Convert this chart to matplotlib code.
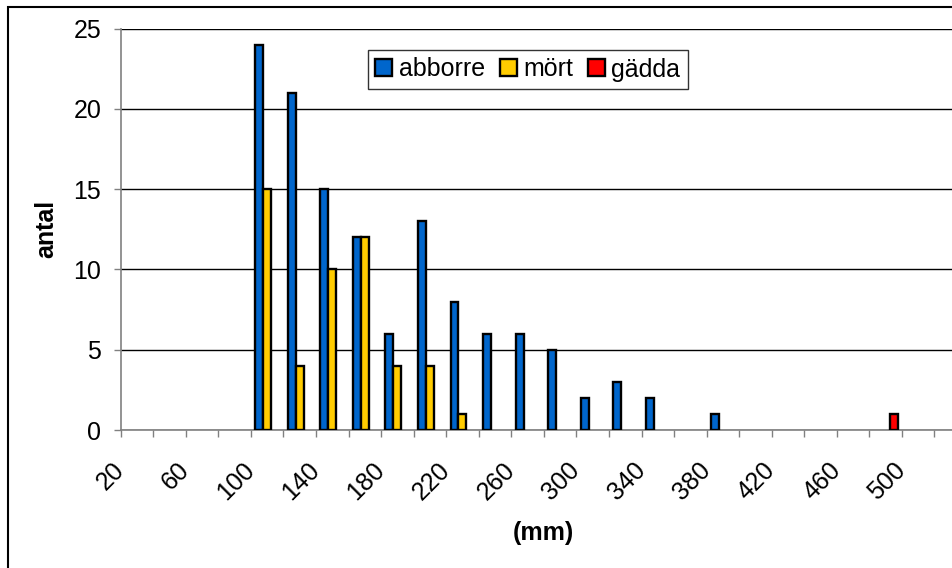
import numpy as np
import matplotlib
matplotlib.use('Agg')
import matplotlib.pyplot as plt
from matplotlib.patches import Rectangle
from matplotlib.transforms import ScaledTranslation

plt.rcParams['font.family'] = ['Liberation Sans', 'DejaVu Sans']

# Length classes (mm) and fish counts
lengths = [20, 40, 60, 80, 100, 120, 140, 160, 180, 200, 220, 240, 260,
           280, 300, 320, 340, 360, 380, 400, 420, 440, 460, 480, 500, 520]
abborre = [0, 0, 0, 0, 24, 21, 15, 12, 6, 13, 8, 6, 6,
           5, 2, 3, 2, 0, 1, 0, 0, 0, 0, 0, 0, 0]
mort = [0, 0, 0, 0, 15, 4, 10, 12, 4, 4, 1, 0, 0,
        0, 0, 0, 0, 0, 0, 0, 0, 0, 0, 0, 0, 0]
gadda = [0, 0, 0, 0, 0, 0, 0, 0, 0, 0, 0, 0, 0,
         0, 0, 0, 0, 0, 0, 0, 0, 0, 0, 1, 0, 1]

series = [('abborre', abborre, '#0066CC'),
          ('mört', mort, '#FFCC00'),
          ('gädda', gadda, '#FF0000')]

W, H = 953, 568
fig = plt.figure(figsize=(W / 100, H / 100), dpi=100)
# plot area runs past the right edge of the picture (cropped chart)
ax = fig.add_axes([120.7 / W, 138 / H, (967 - 120.7) / W, 401.5 / H])

x = np.arange(len(lengths))
bw = 0.245
for i, (name, vals, col) in enumerate(series):
    vals = np.array(vals)
    keep = vals > 0  # empty classes get no bar
    ax.bar(x[keep] + (i - 1) * bw, vals[keep], width=bw, color=col,
           edgecolor='black', linewidth=1.7, label=name, zorder=3)

ax.set_xlim(-0.5, len(lengths) - 0.5)
ax.set_ylim(0, 25)

# y axis
ax.set_yticks(range(0, 26, 5))
ax.yaxis.grid(True, color='black', linewidth=1, zorder=0)
ax.tick_params(axis='y', direction='out', length=5, width=1, color='#808080',
               labelsize=18, pad=9)

# x axis: tick marks on class boundaries, labels on every other class
ax.set_xticks(np.arange(len(lengths) + 1) - 0.5)
ax.set_xticklabels([])
ax.tick_params(axis='x', which='major', direction='out', length=5, width=1,
               color='#808080')
lab_pos = x[::2]
ax.set_xticks(lab_pos, minor=True)
ax.set_xticklabels([str(lengths[k]) for k in lab_pos], minor=True,
                   rotation=45, ha='right', va='top')
ax.tick_params(axis='x', which='minor', length=0, labelsize=18, pad=20)
shift = ScaledTranslation(-8 / 100, 0, fig.dpi_scale_trans)
for t in ax.get_xticklabels(minor=True):
    t.set_transform(t.get_transform() + shift)

for s in ['top', 'right']:
    ax.spines[s].set_visible(False)
for s in ['left', 'bottom']:
    ax.spines[s].set_color('#808080')
    ax.spines[s].set_linewidth(1.2)

ax.set_ylabel('antal', fontsize=18, fontweight='bold')
ax.set_xlabel('(mm)', fontsize=18, fontweight='bold')
ax.xaxis.set_label_coords(543 / W, 1 - 533 / H, transform=fig.transFigure)
ax.xaxis.label.set_va('center')
ax.yaxis.set_label_coords(46 / W, 1 - 229 / H, transform=fig.transFigure)
ax.yaxis.label.set_va('center')

leg = ax.legend(loc='upper left', bbox_to_anchor=(368 / W, 1 - 50 / H),
                bbox_transform=fig.transFigure, ncol=3, fontsize=18,
                frameon=True, fancybox=False, borderaxespad=0,
                handlelength=0.68, handleheight=0.68, handletextpad=0.25,
                columnspacing=0.6, borderpad=0.3)
leg.get_frame().set_edgecolor('black')
leg.get_frame().set_linewidth(1)

# outer chart border (only left and top edges fall inside the picture)
fig.add_artist(Rectangle((8 / W, -0.1), 1.2, 1.1 - 7 / H, fill=False,
                         edgecolor='black', linewidth=1.5,
                         transform=fig.transFigure))

fig.savefig('out.png', dpi=100)
